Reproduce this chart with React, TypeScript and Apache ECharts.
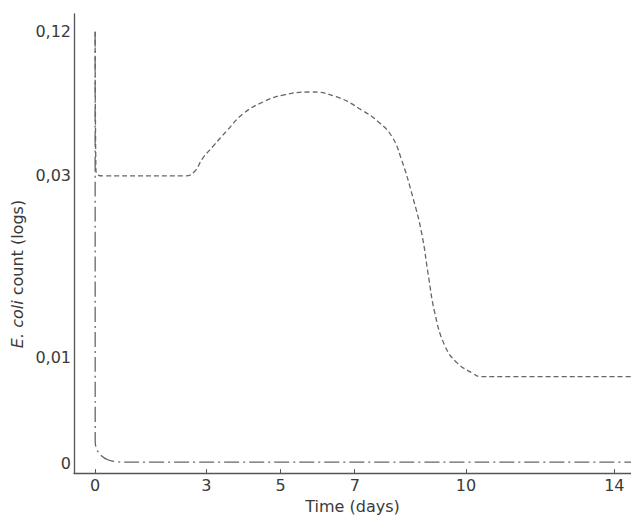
import React, { useEffect, useRef } from "react";
import * as echarts from "echarts";

// Tick labels
const xTicks = [0, 3, 5, 7, 10, 14];
const yTickCounts = [0, 0.01, 0.03, 0.12];
const yTickLabels = ["0", "0,01", "0,03", "0,12"];
// Vertical position of each y tick on the (non-uniform) printed axis, px above the 0 line
const yTickPos = [0, 107, 291, 437];

// Series 1: short-dashed curve (days, E. coli count)
const days1 = [0, 0.02, 0.08, 0.2, 2.45, 2.68, 2.9, 3.18, 3.56, 3.99, 4.53, 5.07, 5.8, 6.52, 7.22, 7.65, 8.0, 8.25, 8.57, 8.81, 8.98, 9.16, 9.43, 9.76, 10.19, 10.38, 14.45];
const count1 = [0.12, 0.034, 0.0305, 0.03, 0.03, 0.0328, 0.041, 0.0485, 0.0584, 0.0688, 0.0762, 0.0805, 0.0824, 0.0793, 0.0707, 0.0635, 0.0547, 0.041, 0.0276, 0.0236, 0.0192, 0.0149, 0.0113, 0.0095, 0.0085, 0.0082, 0.0082];

// Series 2: dash-dot curve
const days2 = [0, 0.002, 0.043, 0.16, 0.34, 0.55, 0.75, 14.45];
const count2 = [0.12, 0.0021, 0.00133, 0.00074, 0.00033, 0.00016, 0.0001, 0.0001];

function toPos(c: number): number {
  for (let i = 1; i < yTickCounts.length; i++) {
    if (c <= yTickCounts[i]) {
      const f = (c - yTickCounts[i - 1]) / (yTickCounts[i] - yTickCounts[i - 1]);
      return yTickPos[i - 1] + f * (yTickPos[i] - yTickPos[i - 1]);
    }
  }
  return yTickPos[yTickPos.length - 1];
}

const FONT = "DejaVu Sans";
const TXT = "#3a3a3a";
const AX = "#555";

export default function App() {
  const ref = useRef<HTMLDivElement>(null);
  useEffect(() => {
    const chart = echarts.init(ref.current!, null, { renderer: "svg" });
    chart.setOption({
      animation: false,
      backgroundColor: "#fff",
      grid: { left: 74, right: 0, top: 14, bottom: 40, containLabel: false },
      xAxis: {
        type: "value",
        min: -0.57,
        max: 14.45,
        axisLine: { show: true, onZero: false, lineStyle: { color: AX, width: 1.3 } },
        axisTick: { show: true, inside: true, length: 4, customValues: xTicks, lineStyle: { color: AX } },
        axisLabel: { customValues: xTicks, color: TXT, fontFamily: FONT, fontSize: 16, margin: 4 },
        splitLine: { show: false },
        name: "Time (days)",
        nameLocation: "middle",
        nameGap: 19,
        nameTextStyle: { color: TXT, fontFamily: FONT, fontSize: 16 },
      },
      yAxis: {
        type: "value",
        min: -10,
        max: 455,
        axisLine: { show: true, onZero: false, lineStyle: { color: AX, width: 1.3 } },
        axisTick: { show: false },
        axisLabel: {
          customValues: yTickPos,
          color: TXT,
          fontFamily: FONT,
          fontSize: 16,
          margin: 3,
          formatter: (v: number) => {
            const i = yTickPos.indexOf(v);
            return i >= 0 ? yTickLabels[i] : "";
          },
        },
        splitLine: { show: false },
      },
      graphic: [
        {
          type: "text",
          x: 17,
          y: 274,
          rotation: Math.PI / 2,
          style: {
            text: "{i|E. coli}{n| count (logs)}",
            align: "center",
            verticalAlign: "middle",
            fill: TXT,
            rich: {
              i: { fontStyle: "italic", fontFamily: FONT, fontSize: 16, fill: TXT },
              n: { fontFamily: FONT, fontSize: 16, fill: TXT },
            },
          },
        },
      ],
      series: [
        {
          type: "line",
          data: days1.map((d, i) => [d, toPos(count1[i])]),
          showSymbol: false,
          smooth: 0.45,
          lineStyle: { color: "#666", width: 1.3, type: [5, 3] },
        },
        {
          type: "line",
          data: days2.map((d, i) => [d, toPos(count2[i])]),
          showSymbol: false,
          smooth: 0.4,
          lineStyle: { color: "#666", width: 1.3, type: [15, 4, 2, 4] },
        },
      ],
    });
    return () => chart.dispose();
  }, []);
  return <div ref={ref} style={{ position: "fixed", left: 0, top: 0, width: 631, height: 519 }} />;
}
